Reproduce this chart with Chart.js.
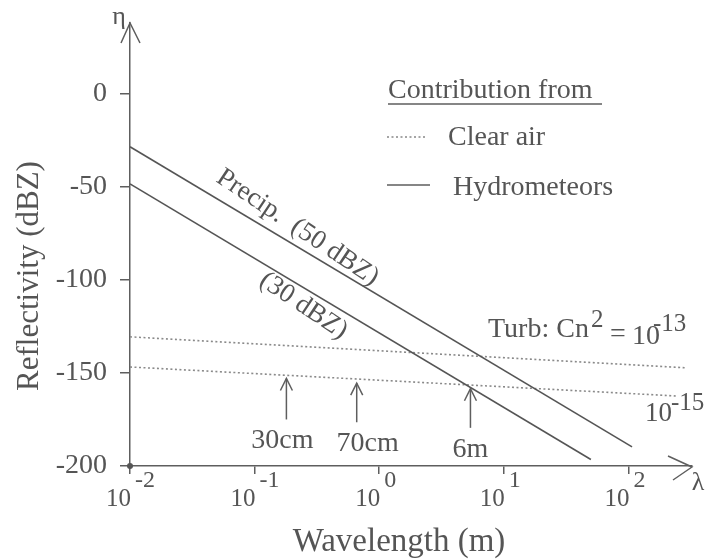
<!DOCTYPE html>
<html><head><meta charset="utf-8">
<script src="https://cdn.jsdelivr.net/npm/chart.js@4.4.1/dist/chart.umd.min.js"></script>
<style>html,body{margin:0;padding:0;background:#fff;}</style>
</head><body>
<canvas id="c" width="707" height="560"></canvas>
<script>
// ---- data ----
const xTicks = [0.01, 0.1, 1, 10, 100];
const xTickExponents = ['-2', '-1', '0', '1', '2'];
const yTicks = [0, -50, -100, -150, -200];
const precip50X = [0.01, 107];
const precip50Y = [-28.5, -189.7];
const precip30X = [0.01, 50];
const precip30Y = [-48.4, -196.5];
const turb13X = [0.01, 295];
const turb13Y = [-130.6, -147.3];
const turb15X = [0.01, 245];
const turb15Y = [-146.8, -162.4];
const arrowLambda = [0.18, 0.66, 5.4];
const arrowTop = [-153, -155.5, -158.5];
const arrowBottom = [-175, -176.5, -179.5];
const arrowLabels = ['30cm', '70cm', '6m'];

const pts = (xs, ys) => xs.map((v, i) => ({x: v, y: ys[i]}));
const SERIF = '"Liberation Serif", "Times New Roman", serif';
const TXT = '#555';
const AX = '#5e5e5e';
const arrowLabelShift = [-4, 11, 0];

const deco = {
  id: 'deco',
  afterDraw(chart) {
    const {ctx, chartArea: a, scales: {x, y}} = chart;
    ctx.save();
    ctx.strokeStyle = AX; ctx.fillStyle = TXT; ctx.lineWidth = 1.5;
    // axis arrow heads
    ctx.beginPath(); ctx.moveTo(a.left - 9, a.top + 20); ctx.lineTo(a.left, a.top); ctx.lineTo(a.left + 10, a.top + 20); ctx.stroke();
    ctx.beginPath(); ctx.moveTo(a.right - 24, a.bottom - 10); ctx.lineTo(a.right, a.bottom + 1); ctx.lineTo(a.right - 19, a.bottom + 14); ctx.stroke();
    // origin dot
    ctx.beginPath(); ctx.arc(a.left, a.bottom, 3, 0, Math.PI * 2); ctx.fill();
    // axis symbols
    ctx.font = '26px ' + SERIF; ctx.textAlign = 'center'; ctx.textBaseline = 'middle';
    ctx.fillText('\u03B7', 119, 17);
    ctx.fillText('\u03BB', 698, 483);
    // x tick labels 10^n
    ctx.textBaseline = 'alphabetic';
    xTicks.forEach((v, i) => {
      const px = x.getPixelForValue(v);
      ctx.font = '25px ' + SERIF; ctx.textAlign = 'right';
      ctx.fillText('10', px + 1, 506);
      ctx.font = '24px ' + SERIF; ctx.textAlign = 'left';
      ctx.fillText(xTickExponents[i], px + 5, 487);
    });
    // axis titles
    ctx.font = '33px ' + SERIF; ctx.textAlign = 'center';
    ctx.fillText('Wavelength (m)', 399, 551);
    ctx.font = '31px ' + SERIF;
    ctx.save(); ctx.translate(38, 276); ctx.rotate(-Math.PI / 2);
    ctx.fillText('Reflectivity (dBZ)', 0, 0); ctx.restore();
    // legend
    ctx.font = '28px ' + SERIF; ctx.textAlign = 'left';
    ctx.fillText('Contribution from', 388, 98);
    ctx.beginPath(); ctx.moveTo(388, 104); ctx.lineTo(602, 104); ctx.stroke();
    ctx.save(); ctx.strokeStyle = '#888'; ctx.setLineDash([2, 2.5]);
    ctx.beginPath(); ctx.moveTo(387, 137); ctx.lineTo(425, 137); ctx.stroke(); ctx.restore();
    ctx.fillText('Clear air', 448, 145);
    ctx.beginPath(); ctx.moveTo(387, 185); ctx.lineTo(430, 185); ctx.stroke();
    ctx.fillText('Hydrometeors', 453, 195);
    // rotated precip labels
    const ang = Math.atan2(y.getPixelForValue(precip50Y[1]) - y.getPixelForValue(precip50Y[0]),
                           x.getPixelForValue(precip50X[1]) - x.getPixelForValue(precip50X[0])) + 0.05;
    ctx.font = '27px ' + SERIF;
    ctx.save(); ctx.translate(215, 181); ctx.rotate(ang); ctx.fillText('Precip.  (50 dBZ)', 0, 0); ctx.restore();
    ctx.save(); ctx.translate(258, 284); ctx.rotate(ang); ctx.fillText('(30 dBZ)', 0, 0); ctx.restore();
    // turbulence labels
    ctx.font = '28px ' + SERIF;
    ctx.fillText('Turb: Cn', 488, 337);
    ctx.font = '25px ' + SERIF;
    ctx.fillText('2', 591, 327);
    ctx.font = '28px ' + SERIF;
    ctx.fillText('=', 610, 342);
    ctx.fillText('10', 632, 344);
    ctx.font = '25px ' + SERIF;
    ctx.fillText('-13', 653, 331);
    ctx.font = '27px ' + SERIF;
    ctx.fillText('10', 645, 421);
    ctx.font = '25px ' + SERIF;
    ctx.fillText('-15', 671, 410);
    // wavelength arrows
    ctx.font = '28px ' + SERIF; ctx.textAlign = 'center';
    arrowLambda.forEach((lam, i) => {
      const px = x.getPixelForValue(lam);
      const yt = y.getPixelForValue(arrowTop[i]);
      const yb = y.getPixelForValue(arrowBottom[i]);
      ctx.beginPath(); ctx.moveTo(px, yb); ctx.lineTo(px, yt); ctx.stroke();
      ctx.beginPath(); ctx.moveTo(px - 6, yt + 12); ctx.lineTo(px, yt); ctx.lineTo(px + 6, yt + 12); ctx.stroke();
      ctx.fillText(arrowLabels[i], px + arrowLabelShift[i], yb + 29);
    });
    ctx.restore();
  }
};

new Chart(document.getElementById('c'), {
  type: 'scatter',
  data: {
    datasets: [
      {label: 'Precip. (50 dBZ)', data: pts(precip50X, precip50Y), showLine: true, borderColor: '#555', borderWidth: 1.6, pointRadius: 0},
      {label: 'Precip. (30 dBZ)', data: pts(precip30X, precip30Y), showLine: true, borderColor: '#555', borderWidth: 1.6, pointRadius: 0},
      {label: 'Cn2 = 1e-13', data: pts(turb13X, turb13Y), showLine: true, borderColor: '#8a8a8a', borderWidth: 1.6, borderDash: [2, 2.5], pointRadius: 0},
      {label: 'Cn2 = 1e-15', data: pts(turb15X, turb15Y), showLine: true, borderColor: '#8a8a8a', borderWidth: 1.6, borderDash: [2, 2.5], pointRadius: 0}
    ]
  },
  options: {
    responsive: false,
    animation: false,
    layout: {padding: {top: 23, right: 15, left: 0, bottom: 0}},
    plugins: {legend: {display: false}, tooltip: {enabled: false}},
    scales: {
      x: {
        type: 'logarithmic', min: 0.01, max: 324,
        afterBuildTicks: s => { s.ticks = xTicks.map(v => ({value: v})); },
        afterFit: s => { s.height = 94; },
        ticks: {display: false},
        grid: {display: true, drawOnChartArea: false, drawTicks: true, tickLength: 8, color: AX, lineWidth: 1.5},
        border: {display: true, color: AX, width: 1.5}
      },
      y: {
        type: 'linear', min: -200, max: 38,
        afterBuildTicks: s => { s.ticks = yTicks.map(v => ({value: v})); },
        afterFit: s => { s.width = 130; },
        ticks: {padding: 13, color: TXT, font: {family: SERIF, size: 28, lineHeight: 0.5}, callback: v => String(v)},
        grid: {display: true, drawOnChartArea: false, drawTicks: true, tickLength: 10, color: AX, lineWidth: 1.5},
        border: {display: true, color: AX, width: 1.5}
      }
    }
  },
  plugins: [deco]
});
</script>
</body></html>
